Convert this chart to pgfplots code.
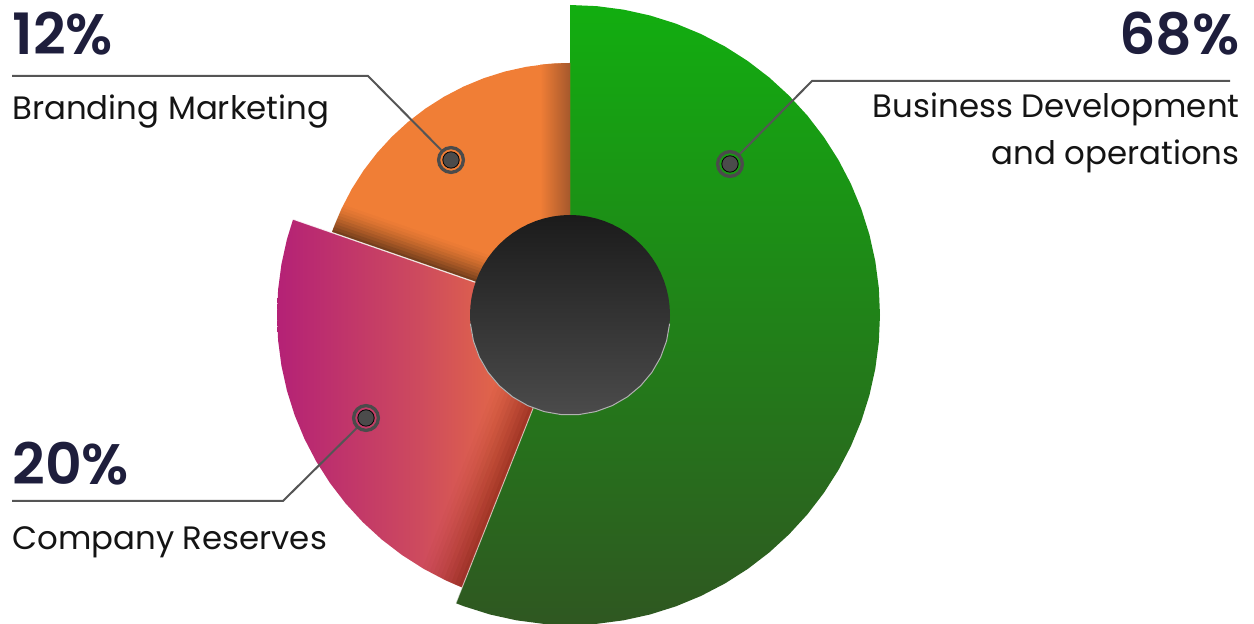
\documentclass[border=0pt]{standalone}
\usepackage{fontspec}
\setmainfont{Poppins}[BoldFont={Poppins SemiBold}]
\usepackage{pgfplots}
\pgfplotsset{compat=1.18}
\definecolor{gT}{HTML}{12AE10}
\definecolor{gM}{HTML}{1F801B}
\definecolor{gB}{HTML}{2F5721}
\definecolor{redA}{HTML}{B42176}
\definecolor{redB}{HTML}{CD4A5E}
\definecolor{redC}{HTML}{E0644A}
\definecolor{orA}{HTML}{F07E36}
\definecolor{orB}{HTML}{A5582C}
\definecolor{shA}{HTML}{7A1A10}
\definecolor{shB}{HTML}{3A2414}
\definecolor{cT}{HTML}{1B1B1B}
\definecolor{cB}{HTML}{4B4B4B}
\definecolor{pcol}{HTML}{1E1E3C}
\definecolor{lcol}{HTML}{141414}
\definecolor{leader}{HTML}{555555}
\definecolor{dotc}{HTML}{4B4B4B}
\pgfdeclarehorizontalshading{redsh}{100bp}{color(0bp)=(redA); color(25bp)=(redA); color(49bp)=(redB); color(62bp)=(redC); color(75bp)=(redC); color(100bp)=(redC)}
\begin{document}
\begin{tikzpicture}
\begin{axis}[name=ax, hide axis, scale only axis, width=627pt, height=312pt,
  xmin=-570, xmax=684, ymin=-309, ymax=315, clip=false]
% green slice (68%)
\addplot[draw=none, top color=gT, middle color=gM, bottom color=gB, data cs=polar] coordinates {
(0,0) (90,310) (85,310) (80,310) (75,310) (70,310) (65,310) (60,310) (55,310) (50,310) (45,310)
(40,310) (35,310) (30,310) (25,310) (20,310) (15,310) (10,310) (5,310) (0,310) (-5,310) (-10,310)
(-15,310) (-20,310) (-25,310) (-30,310) (-35,310) (-40,310) (-45,310) (-50,310) (-55,310) (-60,310)
(-65,310) (-70,310) (-75,310) (-80,310) (-85,310) (-90,310) (-95,310) (-100,310) (-105,310) (-110,310) (-111.6,310)
} -- cycle;
% red slice (20%)
\addplot[draw=none, shading=redsh, data cs=polar] coordinates {
(0,0) (160.9,293) (165,293) (170,293) (175,293) (180,293) (185,293) (190,293) (195,293) (200,293)
(205,293) (210,293) (215,293) (220,293) (225,293) (230,293) (235,293) (240,293) (245,293) (248.4,293)
} -- cycle;
% orange slice (12%)
\addplot[draw=none, fill=orA, data cs=polar] coordinates {
(0,0) (90,252) (95,252) (100,252) (105,252) (110,252) (115,252) (120,252) (125,252) (130,252)
(135,252) (140,252) (145,252) (150,252) (155,252) (160,252) (160.9,252)
} -- cycle;
% shadow on orange along green edge
\addplot[draw=none, left color=orA, right color=orB] coordinates {
(-30,90) (-30,250.2) (-15,251.55) (0,252) (0,90)} -- cycle;
% shadow on red along green edge (nested bands)
\addplot[draw=none, fill=shA, fill opacity=0.141] coordinates {(-31.29,-79.03) (-107.85,-272.43) (-111.56,-270.93) (-35.01,-77.56)} -- cycle;
\addplot[draw=none, fill=shA, fill opacity=0.118] coordinates {(-31.29,-79.03) (-107.85,-272.43) (-111.56,-270.93) (-115.25,-269.39) (-38.73,-76.09)} -- cycle;
\addplot[draw=none, fill=shA, fill opacity=0.101] coordinates {(-31.29,-79.03) (-107.85,-272.43) (-111.56,-270.93) (-115.25,-269.39) (-118.92,-267.78) (-42.45,-74.61)} -- cycle;
\addplot[draw=none, fill=shA, fill opacity=0.088] coordinates {(-31.29,-79.03) (-107.85,-272.43) (-111.56,-270.93) (-115.25,-269.39) (-118.92,-267.78) (-122.57,-266.14) (-46.17,-73.14)} -- cycle;
\addplot[draw=none, fill=shA, fill opacity=0.075] coordinates {(-31.29,-79.03) (-107.85,-272.43) (-111.56,-270.93) (-115.25,-269.39) (-118.92,-267.78) (-122.57,-266.14) (-126.20,-264.44) (-49.89,-71.67)} -- cycle;
\addplot[draw=none, fill=shA, fill opacity=0.065] coordinates {(-31.29,-79.03) (-107.85,-272.43) (-111.56,-270.93) (-115.25,-269.39) (-118.92,-267.78) (-122.57,-266.14) (-126.20,-264.44) (-129.81,-262.69) (-53.61,-70.20)} -- cycle;
\addplot[draw=none, fill=shA, fill opacity=0.056] coordinates {(-31.29,-79.03) (-107.85,-272.43) (-111.56,-270.93) (-115.25,-269.39) (-118.92,-267.78) (-122.57,-266.14) (-126.20,-264.44) (-129.81,-262.69) (-133.39,-260.88) (-57.32,-68.72)} -- cycle;
\addplot[draw=none, fill=shA, fill opacity=0.048] coordinates {(-31.29,-79.03) (-107.85,-272.43) (-111.56,-270.93) (-115.25,-269.39) (-118.92,-267.78) (-122.57,-266.14) (-126.20,-264.44) (-129.81,-262.69) (-133.39,-260.88) (-136.96,-259.02) (-61.04,-67.25)} -- cycle;
\addplot[draw=none, fill=shA, fill opacity=0.040] coordinates {(-31.29,-79.03) (-107.85,-272.43) (-111.56,-270.93) (-115.25,-269.39) (-118.92,-267.78) (-122.57,-266.14) (-126.20,-264.44) (-129.81,-262.69) (-133.39,-260.88) (-136.96,-259.02) (-140.51,-257.12) (-64.76,-65.78)} -- cycle;
\addplot[draw=none, fill=shA, fill opacity=0.031] coordinates {(-31.29,-79.03) (-107.85,-272.43) (-111.56,-270.93) (-115.25,-269.39) (-118.92,-267.78) (-122.57,-266.14) (-126.20,-264.44) (-129.81,-262.69) (-133.39,-260.88) (-136.96,-259.02) (-140.51,-257.12) (-144.04,-255.16) (-68.48,-64.31)} -- cycle;
\addplot[draw=none, fill=shA, fill opacity=0.027] coordinates {(-31.29,-79.03) (-107.85,-272.43) (-111.56,-270.93) (-115.25,-269.39) (-118.92,-267.78) (-122.57,-266.14) (-126.20,-264.44) (-129.81,-262.69) (-133.39,-260.88) (-136.96,-259.02) (-140.51,-257.12) (-144.04,-255.16) (-147.54,-253.14) (-72.20,-62.83)} -- cycle;
% shadow on orange along red edge (nested bands)
\addplot[draw=none, fill=shB, fill opacity=0.212] coordinates {(-80.32,27.81) (-238.11,82.45) (-237.12,85.29) (-79.34,30.65)} -- cycle;
\addplot[draw=none, fill=shB, fill opacity=0.166] coordinates {(-80.32,27.81) (-238.11,82.45) (-237.12,85.29) (-236.09,88.10) (-78.36,33.48)} -- cycle;
\addplot[draw=none, fill=shB, fill opacity=0.137] coordinates {(-80.32,27.81) (-238.11,82.45) (-237.12,85.29) (-236.09,88.10) (-235.02,90.90) (-77.38,36.31)} -- cycle;
\addplot[draw=none, fill=shB, fill opacity=0.111] coordinates {(-80.32,27.81) (-238.11,82.45) (-237.12,85.29) (-236.09,88.10) (-235.02,90.90) (-233.91,93.70) (-76.39,39.15)} -- cycle;
\addplot[draw=none, fill=shB, fill opacity=0.094] coordinates {(-80.32,27.81) (-238.11,82.45) (-237.12,85.29) (-236.09,88.10) (-235.02,90.90) (-233.91,93.70) (-232.78,96.48) (-75.41,41.98)} -- cycle;
\addplot[draw=none, fill=shB, fill opacity=0.078] coordinates {(-80.32,27.81) (-238.11,82.45) (-237.12,85.29) (-236.09,88.10) (-235.02,90.90) (-233.91,93.70) (-232.78,96.48) (-231.62,99.25) (-74.43,44.82)} -- cycle;
\addplot[draw=none, fill=shB, fill opacity=0.065] coordinates {(-80.32,27.81) (-238.11,82.45) (-237.12,85.29) (-236.09,88.10) (-235.02,90.90) (-233.91,93.70) (-232.78,96.48) (-231.62,99.25) (-230.41,102.01) (-73.45,47.65)} -- cycle;
\addplot[draw=none, fill=shB, fill opacity=0.052] coordinates {(-80.32,27.81) (-238.11,82.45) (-237.12,85.29) (-236.09,88.10) (-235.02,90.90) (-233.91,93.70) (-232.78,96.48) (-231.62,99.25) (-230.41,102.01) (-229.18,104.76) (-72.47,50.49)} -- cycle;
\addplot[draw=none, fill=shB, fill opacity=0.040] coordinates {(-80.32,27.81) (-238.11,82.45) (-237.12,85.29) (-236.09,88.10) (-235.02,90.90) (-233.91,93.70) (-232.78,96.48) (-231.62,99.25) (-230.41,102.01) (-229.18,104.76) (-227.91,107.49) (-71.49,53.32)} -- cycle;
\addplot[draw=none, fill=shB, fill opacity=0.025] coordinates {(-80.32,27.81) (-238.11,82.45) (-237.12,85.29) (-236.09,88.10) (-235.02,90.90) (-233.91,93.70) (-232.78,96.48) (-231.62,99.25) (-230.41,102.01) (-229.18,104.76) (-227.91,107.49) (-226.60,110.22) (-70.50,56.16)} -- cycle;
% light edges
\addplot[white, draw opacity=0.85, line width=0.6pt, data cs=polar] coordinates {(160.9,100) (160.9,293)};
\addplot[white, draw opacity=0.6, line width=0.5pt, data cs=polar] coordinates {(248.4,100) (248.4,310)};
% centre disc
\addplot[draw=none, top color=cT, bottom color=cB, data cs=polar] coordinates {
(0,100) (5,100) (10,100) (15,100) (20,100) (25,100) (30,100) (35,100) (40,100) (45,100) (50,100) (55,100)
(60,100) (65,100) (70,100) (75,100) (80,100) (85,100) (90,100) (95,100) (100,100) (105,100) (110,100)
(115,100) (120,100) (125,100) (130,100) (135,100) (140,100) (145,100) (150,100) (155,100) (160,100)
(165,100) (170,100) (175,100) (180,100) (185,100) (190,100) (195,100) (200,100) (205,100) (210,100)
(215,100) (220,100) (225,100) (230,100) (235,100) (240,100) (245,100) (250,100) (255,100) (260,100)
(265,100) (270,100) (275,100) (280,100) (285,100) (290,100) (295,100) (300,100) (305,100) (310,100)
(315,100) (320,100) (325,100) (330,100) (335,100) (340,100) (345,100) (350,100) (355,100)
} -- cycle;
\addplot[color=gray!60, line width=0.5pt, data cs=polar] coordinates {
(185,100) (195,100) (205,100) (215,100) (225,100) (235,100) (245,100) (255,100) (265,100) (275,100)
(285,100) (295,100) (305,100) (315,100) (325,100) (335,100) (345,100) (355,100)};
% leader lines
\addplot[leader, line width=1pt] coordinates {(-558,239) (-202,239) (-128.8,165)};
\addplot[leader, line width=1pt] coordinates {(660,234) (242,234) (169.8,161)};
\addplot[leader, line width=1pt] coordinates {(-558,-186) (-287,-186) (-213,-112.8)};
% markers
\addplot[only marks, mark=o, mark size=6.2pt, mark options={draw=dotc, line width=1.65pt}] coordinates {(-119,155) (160,151) (-204,-103)};
\addplot[only marks, mark=*, mark size=4.1pt, mark options={draw=none, fill=dotc}] coordinates {(-119,155) (160,151) (-204,-103)};
% texts
\node[anchor=base west, text=pcol, font=\fontsize{28.5}{30}\selectfont\bfseries, inner sep=0pt] at (axis cs:-558,260) {12\%};
\node[anchor=base west, text=lcol, font=\fontsize{16.2}{20}\selectfont, inner sep=0pt] at (axis cs:-558,195) {Branding Marketing};
\node[anchor=base east, text=pcol, font=\fontsize{28.5}{30}\selectfont\bfseries, inner sep=0pt] at (axis cs:670,260) {68\%};
\node[anchor=base east, text=lcol, font=\fontsize{16.2}{20}\selectfont, inner sep=0pt] at (axis cs:670,197) {Business Development};
\node[anchor=base east, text=lcol, font=\fontsize{16.2}{20}\selectfont, inner sep=0pt] at (axis cs:670,150) {and operations};
\node[anchor=base west, text=pcol, font=\fontsize{28.5}{30}\selectfont\bfseries, inner sep=0pt] at (axis cs:-558,-170) {20\%};
\node[anchor=base west, text=lcol, font=\fontsize{16.2}{20}\selectfont, inner sep=0pt] at (axis cs:-558,-235) {Company Reserves};
\end{axis}
\pgfresetboundingbox
\useasboundingbox (ax.south west) rectangle (ax.north east);
\end{tikzpicture}
\end{document}
